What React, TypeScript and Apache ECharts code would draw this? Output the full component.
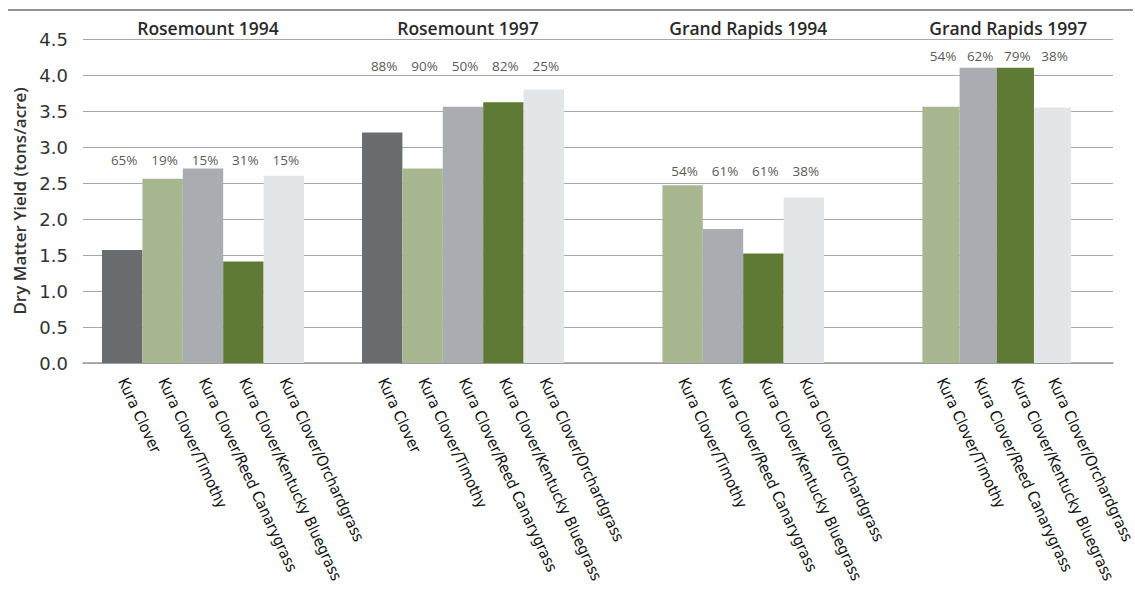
import React, { useEffect, useRef } from "react";
import * as echarts from "echarts";

// ---- data ----
const groupNames = ["Rosemount 1994", "Rosemount 1997", "Grand Rapids 1994", "Grand Rapids 1997"];
const varieties = [
  "Kura Clover",
  "Kura Clover/Timothy",
  "Kura Clover/Reed Canarygrass",
  "Kura Clover/Kentucky Bluegrass",
  "Kura Clover/Orchardgrass",
];
const yieldRosemount1994 = [1.57, 2.56, 2.7, 1.41, 2.6];
const yieldRosemount1997 = [3.2, 2.7, 3.56, 3.62, 3.8];
const yieldGrandRapids1994 = [null, 2.47, 1.86, 1.52, 2.3];
const yieldGrandRapids1997 = [null, 3.56, 4.1, 4.1, 3.55];
const pctRosemount1994 = ["65%", "19%", "15%", "31%", "15%"];
const pctRosemount1997 = ["88%", "90%", "50%", "82%", "25%"];
const pctGrandRapids1994 = [null, "54%", "61%", "61%", "38%"];
const pctGrandRapids1997 = [null, "54%", "62%", "79%", "38%"];
const yMin = 0;
const yMax = 4.5;
const yStep = 0.5;

// ---- styling / layout (not data) ----
const varietyColors = ["#6a6d6f", "#a8b78f", "#a9adb1", "#5f7a35", "#e3e6e8"];
const pctLabelLevel = [2.82, 4.12, 2.66, 4.26];
const plotLeft = 83;
const plotTop = 39;
const plotHeight = 324;
const plotWidth = 1030;
const slotW = 40.4;
const groupOffset = 19;
const groupSpacing = 260;

const yields = [yieldRosemount1994, yieldRosemount1997, yieldGrandRapids1994, yieldGrandRapids1997];
const pcts = [pctRosemount1994, pctRosemount1997, pctGrandRapids1994, pctGrandRapids1997];

const labelFont = "'Liberation Sans Narrow', 'DejaVu Sans Condensed', 'Roboto', sans-serif";
const mainFont = "'Open Sans', 'DejaVu Sans', sans-serif";
const tickFont = "'DejaVu Sans', 'Open Sans', sans-serif";

function buildOption() {
  const grids: any[] = [{ left: plotLeft, top: plotTop, width: plotWidth, height: plotHeight }];
  const xAxes: any[] = [
    {
      type: "value",
      gridIndex: 0,
      min: 0,
      max: 1,
      axisLabel: { show: false },
      axisTick: { show: false },
      splitLine: { show: false },
      axisLine: { show: true, lineStyle: { color: "#9a9a9a", width: 1.5 } },
    },
  ];
  const yAxes: any[] = [
    {
      type: "value",
      gridIndex: 0,
      min: yMin,
      max: yMax,
      interval: yStep,
      axisLine: { show: false },
      axisTick: { show: false },
      splitLine: { show: true, lineStyle: { color: "#a8a8a8", width: 1.2 } },
      axisLabel: {
        formatter: (v: number) => v.toFixed(1),
        fontSize: 18,
        color: "#333",
        margin: 15,
        fontFamily: tickFont,
      },
      name: "Dry Matter Yield (tons/acre)",
      nameLocation: "middle",
      nameGap: 54,
      nameTextStyle: { fontSize: 17, fontWeight: 600, color: "#333", fontFamily: mainFont },
    },
  ];
  const series: any[] = [];
  const titles: any[] = [];

  yields.forEach((vals, g) => {
    const idx = vals.map((v, i) => (v === null ? -1 : i)).filter((i) => i >= 0);
    const first = idx[0];
    const left = plotLeft + groupOffset + groupSpacing * g + slotW * first;
    const width = slotW * idx.length;
    const gi = g + 1;
    grids.push({ left, top: plotTop, width, height: plotHeight });
    xAxes.push({
      type: "category",
      gridIndex: gi,
      data: idx.map((i) => varieties[i]),
      axisLine: { show: false },
      axisTick: { show: false },
      axisLabel: {
        interval: 0,
        rotate: -65,
        margin: 16,
        fontSize: 15.5,
        color: "#111",
        fontFamily: labelFont,
      },
    });
    yAxes.push({
      type: "value",
      gridIndex: gi,
      min: yMin,
      max: yMax,
      interval: yStep,
      show: false,
      splitLine: { show: false },
    });
    series.push({
      type: "bar",
      xAxisIndex: gi,
      yAxisIndex: gi,
      barCategoryGap: 0,
      data: idx.map((i) => ({ value: vals[i], itemStyle: { color: varietyColors[i] } })),
    });
    series.push({
      type: "scatter",
      xAxisIndex: gi,
      yAxisIndex: gi,
      symbolSize: 0,
      silent: true,
      data: idx.map((i) => [varieties[i], pctLabelLevel[g]]),
      label: {
        show: true,
        position: "inside",
        offset: [2, 0],
        formatter: (p: any) => pcts[g][idx[p.dataIndex]] as string,
        fontSize: 13.5,
        color: "#2a2a2a",
        fontFamily: mainFont,
      },
    });
    titles.push({
      text: groupNames[g],
      left: left + width / 2,
      top: 14,
      textAlign: "center",
      textStyle: { fontSize: 17.5, fontWeight: 600, color: "#2a2a2a", fontFamily: mainFont },
    });
  });

  return {
    animation: false,
    title: titles,
    grid: grids,
    xAxis: xAxes,
    yAxis: yAxes,
    series,
    graphic: [
      {
        type: "line",
        shape: { x1: 8, y1: 10, x2: 1133, y2: 10 },
        style: { stroke: "#6f6f6f", lineWidth: 1.5 },
      },
    ],
  };
}

export default function App() {
  const ref = useRef<HTMLDivElement>(null);
  useEffect(() => {
    if (!ref.current) return;
    const chart = echarts.init(ref.current, null, { renderer: "svg" });
    chart.setOption(buildOption() as any);
    return () => chart.dispose();
  }, []);
  return (
    <div
      ref={ref}
      style={{ position: "fixed", left: 0, top: 0, width: 1135, height: 595, background: "#fff" }}
    />
  );
}
